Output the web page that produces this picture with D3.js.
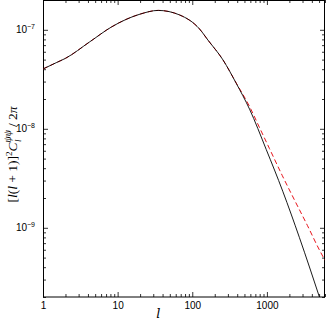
<!DOCTYPE html>
<html>
<head>
<meta charset="utf-8">
<script src="https://cdn.jsdelivr.net/npm/d3@7"></script>
<style>
  body { margin: 0; background: #fff; }
  .tick text { font-family: "Liberation Sans", Arial, sans-serif; font-size: 10px; fill: #000; }
  .axis path { display: none; }
  .axis line { stroke: #000; stroke-width: 0.8; }
</style>
</head>
<body>
<div id="chart"></div>
<script>
// multipole l and the two spectra
var ellsLin   = [1, 1.5, 2, 4.25, 8.3, 20, 35, 68, 125, 162, 258, 388, 585, 980, 1630, 2730, 5050, 6000];
var linear    = [4.02e-8, 4.65e-8, 5.15e-8, 7.58e-8, 1.07e-7, 1.44e-7, 1.57e-7, 1.41e-7, 1.02e-7, 7.88e-8, 4.96e-8, 2.88e-8, 1.58e-8, 6.17e-9, 2.34e-9, 7.94e-10, 2.0e-10, 1.35e-10];
var ellsNl    = [1, 1.5, 2, 4.25, 8.3, 20, 35, 68, 125, 162, 258, 388, 585, 800, 1083, 1600, 2339, 3500, 5050, 6000];
var nonlinear = [4.02e-8, 4.65e-8, 5.15e-8, 7.58e-8, 1.07e-7, 1.44e-7, 1.57e-7, 1.41e-7, 1.02e-7, 7.88e-8, 4.96e-8, 2.9e-8, 1.68e-8, 1.02e-8, 6.3e-9, 3.39e-9, 1.91e-9, 1.05e-9, 5.97e-10, 4.7e-10];
var xTicks = [1, 10, 100, 1000];
var yTicks = [1e-9, 1e-8, 1e-7];

var svgWidth = 326, svgHeight = 320;
var margin = ({top: 0, right: 1, bottom: 23, left: 43});
var w = svgWidth - margin.left - margin.right;
var h = svgHeight - margin.top - margin.bottom;

var x = d3.scaleLog().domain([1, 6000]).range([0, w]);
var y = d3.scaleLog().domain([2e-10, 2e-7]).range([h, 0]);

var svg = d3.select("#chart").append("svg")
    .attr("width", svgWidth)
    .attr("height", svgHeight);
var g = svg.append("g")
    .attr("transform", "translate(" + margin.left + "," + margin.top + ")");

g.append("defs").append("clipPath").attr("id", "clip")
    .append("rect").attr("width", w).attr("height", h);

// minor tick values
var xMinor = [];
[1, 10, 100, 1000].forEach(function (d) {
    for (var k = 2; k < 10; k++) if (d * k <= 6000) xMinor.push(d * k);
});
var yMinor = [];
[1e-10, 1e-9, 1e-8, 1e-7].forEach(function (d) {
    for (var k = 2; k < 10; k++) if (d * k >= 2e-10 && d * k <= 2e-7) yMinor.push(d * k);
});

function ticksOn(axisFn, scale, vals, size, tr) {
    g.append("g").attr("class", "axis").attr("transform", tr)
        .call(axisFn(scale).tickValues(vals).tickSize(size).tickFormat(""));
}
// inward ticks on all four sides
ticksOn(d3.axisBottom, x, xTicks, -5, "translate(0," + h + ")");
ticksOn(d3.axisBottom, x, xMinor, -3, "translate(0," + h + ")");
ticksOn(d3.axisTop, x, xTicks, -5, "translate(0,0)");
ticksOn(d3.axisTop, x, xMinor, -3, "translate(0,0)");
ticksOn(d3.axisLeft, y, yTicks, -5, "translate(0,0)");
ticksOn(d3.axisLeft, y, yMinor, -3, "translate(0,0)");
ticksOn(d3.axisRight, y, yTicks, -5, "translate(" + w + ",0)");
ticksOn(d3.axisRight, y, yMinor, -3, "translate(" + w + ",0)");

// x tick labels
g.append("g").attr("class", "axis")
    .attr("transform", "translate(0," + h + ")")
    .call(d3.axisBottom(x).tickValues(xTicks).tickSize(0).tickPadding(5)
        .tickFormat(d3.format("d")));

// y tick labels as 10^n
var ylab = g.append("g").attr("class", "axis")
    .call(d3.axisLeft(y).tickValues(yTicks).tickSize(0).tickPadding(8));
ylab.selectAll(".tick text").each(function (d) {
    var t = d3.select(this).text(null).attr("dy", "0.3em");
    t.append("tspan").text("10");
    t.append("tspan").text("\u2212" + Math.round(-Math.log10(d)))
        .attr("font-size", "7px").attr("dy", "-0.6em");
});

// frame
g.append("rect")
    .attr("x", 0.5).attr("y", 0.5)
    .attr("width", w - 1).attr("height", h - 0.5)
    .attr("fill", "none").attr("stroke", "#000").attr("stroke-width", 1);

var line = d3.line().curve(d3.curveMonotoneX)
    .x(function (d) { return x(d[0]); })
    .y(function (d) { return y(d[1]); });

var plot = g.append("g").attr("clip-path", "url(#clip)");
plot.append("path")
    .datum(ellsNl.map(function (l, i) { return [l, nonlinear[i]]; }))
    .attr("d", line)
    .attr("fill", "none").attr("stroke", "#e8141b").attr("stroke-width", 1)
    .attr("stroke-dasharray", "5,3");
plot.append("path")
    .datum(ellsLin.map(function (l, i) { return [l, linear[i]]; }))
    .attr("d", line)
    .attr("fill", "none").attr("stroke", "#000").attr("stroke-width", 0.9);

// axis titles
svg.append("text")
    .attr("x", margin.left + x(35)).attr("y", 318)
    .attr("text-anchor", "middle")
    .attr("font-family", "'DejaVu Serif', serif").attr("font-style", "italic")
    .attr("font-size", "13px").text("l");

var yt = svg.append("text")
    .attr("transform", "translate(17," + (margin.top + h / 2 + 6) + ") rotate(-90)")
    .attr("text-anchor", "middle")
    .attr("font-family", "'Liberation Serif', 'DejaVu Serif', serif")
    .attr("font-size", "13.5px");
yt.append("tspan").text("[");
yt.append("tspan").attr("font-style", "italic").text("l");
yt.append("tspan").text("(");
yt.append("tspan").attr("font-style", "italic").text("l");
yt.append("tspan").text(" + 1)]");
yt.append("tspan").attr("font-size", "9px").attr("dy", "-5").text("2");
yt.append("tspan").attr("font-style", "italic").attr("dy", "5").text("C");
yt.append("tspan").attr("font-style", "italic").attr("font-size", "10px").attr("dy", "-6").text("\u03c8\u03c8");
yt.append("tspan").attr("font-style", "italic").attr("font-size", "9px").attr("dx", "-12").attr("dy", "10").text("l");
yt.append("tspan").attr("dx", "9").attr("dy", "-4").text(" / 2");
yt.append("tspan").attr("font-style", "italic").text("\u03c0");
</script>
</body>
</html>
